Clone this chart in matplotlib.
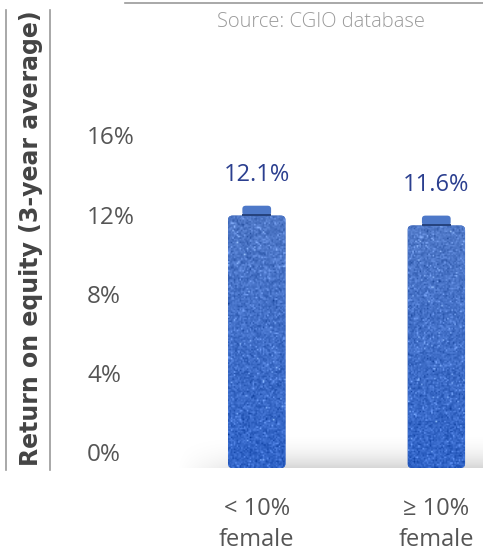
import numpy as np
import matplotlib
matplotlib.use("Agg")
import matplotlib.pyplot as plt
from matplotlib.patches import FancyBboxPatch
from matplotlib.lines import Line2D

categories = ["< 10%\nfemale", "\u2265 10%\nfemale"]
roe_values = [12.1, 11.6]
value_labels = ["12.1%", "11.6%"]
y_ticks = [0, 4, 8, 12, 16]
y_tick_labels = ["0%", "4%", "8%", "12%", "16%"]

W, H = 483, 551
fig = plt.figure(figsize=(W / 100, H / 100), dpi=100)
fig.patch.set_facecolor("white")

def px(x0, y0, x1, y1):
    return [x0 / W, 1 - y1 / H, (x1 - x0) / W, (y1 - y0) / H]

ax = fig.add_axes(px(140, 118, 483, 468))
ax.set_xlim(-0.65, 1.26)
ax.set_ylim(-0.65, 17.03)
for s in ax.spines.values():
    s.set_visible(False)
ax.set_xticks([])
ax.set_yticks([])

font = "Open Sans"
rng = np.random.default_rng(7)

# soft floor shadow under the bars
shadow = np.linspace(0, 1, 40)[:, None] ** 2.2 * np.ones((1, 200))
edge = np.clip(np.linspace(0, 3, 200), 0, 1)[None, :]
shadow_rgba = np.zeros((40, 200, 4))
shadow_rgba[..., 3] = shadow * edge * 0.16
ax.imshow(shadow_rgba, extent=(-0.45, 1.26, -0.65, 1.3), origin="upper",
          aspect="auto", zorder=1, interpolation="bilinear")

width = 0.32
top_col = np.array([0.31, 0.47, 0.78])
bot_col = np.array([0.19, 0.39, 0.78])
for i, v in enumerate(roe_values):
    body = FancyBboxPatch((i - width / 2, -0.65), width, v + 0.65,
                          boxstyle="round,pad=0,rounding_size=0.025",
                          mutation_aspect=9, facecolor="#3b67c2",
                          edgecolor="none", zorder=2)
    ax.add_patch(body)
    # speckled paint texture clipped to the bar
    rows, cols = 170, 40
    t = np.linspace(0, 1, rows)[:, None, None]
    base = top_col * (1 - t) + bot_col * t
    n = rng.normal(0, 1, (rows, cols))[..., None]
    spots = (rng.random((rows, cols)) > 0.96)[..., None]
    tex = np.clip(base + n * 0.055 + spots * 0.2, 0, 1)
    im = ax.imshow(tex, extent=(i - width / 2, i + width / 2, -0.65, v),
                   aspect="auto", zorder=3, interpolation="bilinear")
    im.set_clip_path(body)
    # small cap on top of each bar
    cap = FancyBboxPatch((i - width * 0.25, v), width * 0.5, 0.5,
                         boxstyle="round,pad=0,rounding_size=0.02",
                         mutation_aspect=8, facecolor="#4d78c8",
                         edgecolor="none", zorder=3)
    ax.add_patch(cap)
    ax.plot([i - width * 0.25, i + width * 0.25], [v + 0.04, v + 0.04],
            color="#25427c", lw=1.4, zorder=4, solid_capstyle="butt")
    ax.text(i, v + 2.05, value_labels[i], ha="center", va="center",
            fontsize=17, color="#2b3f8f", family=font)
    ax.text(i, -3.5, categories[i], ha="center", va="center",
            fontsize=17, color="#555555", family=font, linespacing=1.4,
            clip_on=False)

for t, lab in zip(y_ticks, y_tick_labels):
    ax.text(-0.945, t, lab, ha="left", va="center", fontsize=17.5,
            color="#555555", family=font, clip_on=False)

fig.text(31 / W, 1 - 238 / H, "Return on equity (3-year average)",
         rotation=90, ha="center", va="center", fontsize=17,
         fontweight="bold", color="#444444", family="DejaVu Sans")

for xline in (6, 50):
    fig.add_artist(Line2D([xline / W, xline / W], [1 - 10 / H, 1 - 470 / H],
                          color="#9a9a9a", lw=1.2))
fig.add_artist(Line2D([125 / W, 1.0], [1 - 3 / H, 1 - 3 / H],
                      color="#9a9a9a", lw=1.2))
fig.text(321 / W, 1 - 22 / H, "Source: CGIO database", ha="center",
         va="center", fontsize=14.5, color="#9a9a9a", family=font,
         fontweight="light")

fig.savefig("out.png", dpi=100, facecolor="white")
